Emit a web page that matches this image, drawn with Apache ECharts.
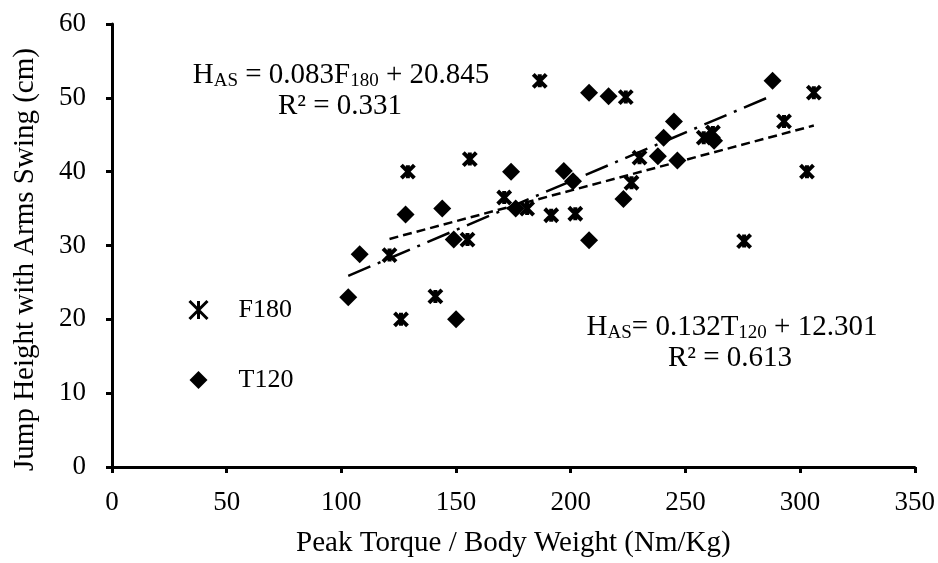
<!DOCTYPE html>
<html>
<head>
<meta charset="utf-8">
<script src="https://cdn.jsdelivr.net/npm/echarts@6/dist/echarts.min.js"></script>
<style>html,body{margin:0;padding:0;background:#fff}#c{width:938px;height:563px}</style>
</head>
<body>
<div id="c"></div>
<script>
// ---- data ----
const f180X = [121, 126, 129, 141, 155, 156, 171, 181, 186.5, 191.5, 202, 224, 226.5, 230, 258, 262, 275.6, 293, 303, 306];
const f180Y = [28.7, 20, 40, 23.1, 30.8, 41.7, 36.5, 35, 52.3, 34.1, 34.3, 50.1, 38.5, 41.9, 44.6, 45.3, 30.6, 46.8, 40, 50.7];
const t120X = [103, 108, 128, 144, 149, 150, 174, 176, 197, 201, 208, 208, 216.5, 223, 238, 240.5, 245, 246.5, 262.5, 288];
const t120Y = [23, 28.8, 34.2, 35, 30.8, 20, 40, 35, 40.1, 38.7, 50.7, 30.7, 50.2, 36.3, 42.1, 44.6, 46.8, 41.5, 44.2, 52.3];
const f180Fit = [0.083, 20.845];
const t120Fit = [0.132, 12.301];
const xTicks = [0, 350, 50];
const yTicks = [0, 60, 10];
const seriesNames = ['F180', 'T120'];

const FONT = '"Liberation Serif", "Times New Roman", serif';
const pts = (xs, ys) => xs.map((x, i) => [x, ys[i]]);
const fitLine = (xs, fit) => {
  const lo = Math.min(...xs), hi = Math.max(...xs);
  return [[lo, fit[0] * lo + fit[1]], [hi, fit[0] * hi + fit[1]]];
};

const chart = echarts.init(document.getElementById('c'), null, {renderer: 'canvas'});
const axisCommon = {
  axisLine: {show: true, onZero: false, lineStyle: {color: '#000', width: 3}},
  axisTick: {show: true, inside: false, length: 6, lineStyle: {color: '#000', width: 3}},
  splitLine: {show: false},
  nameTextStyle: {fontFamily: FONT, fontSize: 29, color: '#000'},
  axisLabel: {fontFamily: FONT, fontSize: 27, color: '#000'}
};
const rich = {
  n: {fontFamily: FONT, fontSize: 29, color: '#000', lineHeight: 32},
  s: {fontFamily: FONT, fontSize: 19, color: '#000', lineHeight: 18, verticalAlign: 'bottom'}
};
chart.setOption({
  animation: false,
  backgroundColor: '#fff',
  grid: {left: 112, right: 20, top: 24, bottom: 92, containLabel: false},
  xAxis: Object.assign({}, axisCommon, {
    type: 'value', min: xTicks[0], max: xTicks[1], interval: xTicks[2],
    name: 'Peak Torque / Body Weight (Nm/Kg)', nameLocation: 'middle', nameGap: 62,
    axisLabel: Object.assign({}, axisCommon.axisLabel, {margin: 22})
  }),
  yAxis: Object.assign({}, axisCommon, {
    type: 'value', min: yTicks[0], max: yTicks[1], interval: yTicks[2],
    name: 'Jump Height with Arms Swing (cm)', nameLocation: 'middle', nameGap: 72,
    nameTextStyle: Object.assign({}, axisCommon.nameTextStyle, {padding: [0, 28, 0, 0]}),
    axisLabel: Object.assign({}, axisCommon.axisLabel, {margin: 26})
  }),
  legend: {
    orient: 'vertical', left: 183, top: 292, itemWidth: 18, itemHeight: 18, itemGap: 44,
    data: [
      {name: seriesNames[0], itemStyle: {color: '#000', borderColor: '#000', borderWidth: 3}},
      {name: seriesNames[1], itemStyle: {color: '#000', borderWidth: 0}}
    ],
    textStyle: {fontFamily: FONT, fontSize: 26, color: '#000', padding: [0, 0, 0, 26]}
  },
  series: [
    {
      name: seriesNames[0], type: 'scatter', data: pts(f180X, f180Y),
      symbol: 'path://M0,0L10,10M10,0L0,10M5,0L5,10', symbolSize: 13,
      itemStyle: {color: '#000', borderColor: '#000', borderWidth: 4, opacity: 1}, z: 3
    },
    {
      name: seriesNames[1], type: 'scatter', data: pts(t120X, t120Y),
      symbol: 'diamond', symbolSize: 18,
      itemStyle: {color: '#000', opacity: 1}, z: 3
    },
    {
      name: 'F180 fit', type: 'line', data: fitLine(f180X, f180Fit), symbol: 'none',
      lineStyle: {color: '#000', width: 2.5, type: [9, 5]}, z: 4, silent: true
    },
    {
      name: 'T120 fit', type: 'line', data: fitLine(t120X, t120Fit), symbol: 'none',
      lineStyle: {color: '#000', width: 2.5, type: [24, 8, 3, 8]}, z: 4, silent: true
    }
  ],
  graphic: [
    {type: 'text', x: 341, y: 75, style: {text: '{n|H}{s|AS}{n| = 0.083F}{s|180}{n| + 20.845}', rich: rich, align: 'center', verticalAlign: 'middle'}},
    {type: 'text', x: 340, y: 106, style: {text: '{n|R² = 0.331}', rich: rich, align: 'center', verticalAlign: 'middle'}},
    {type: 'text', x: 732, y: 327, style: {text: '{n|H}{s|AS}{n|= 0.132T}{s|120}{n| + 12.301}', rich: rich, align: 'center', verticalAlign: 'middle'}},
    {type: 'text', x: 730, y: 358, style: {text: '{n|R² = 0.613}', rich: rich, align: 'center', verticalAlign: 'middle'}}
  ]
});
</script>
</body>
</html>
